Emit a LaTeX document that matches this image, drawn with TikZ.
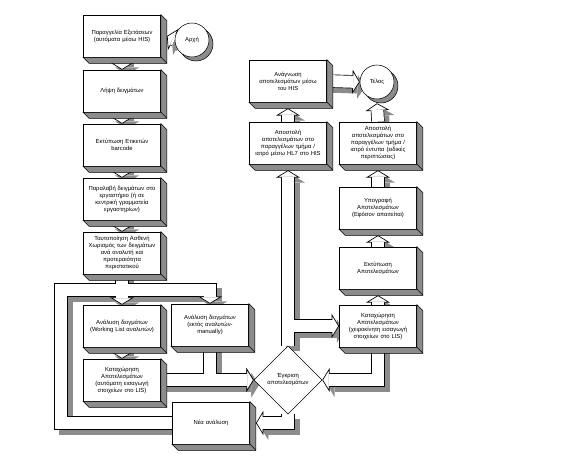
\documentclass[tikz,border=0pt]{standalone}
\usepackage{fontspec}
\setmainfont{Liberation Sans}
\usetikzlibrary{shapes.geometric, arrows.meta, shadows}

\pgfdeclarelayer{pipeshadow}
\pgfdeclarelayer{pipeedge}
\pgfdeclarelayer{pipefill}
\pgfsetlayers{pipeshadow,pipeedge,pipefill,main}

% wide 3D pipe: shadow, outline and white core on their own layers so that pipes merge
\newcommand{\pipe}[1]{%
  \begin{pgfonlayer}{pipeshadow}\draw[pipe shadow] #1;\end{pgfonlayer}%
  \begin{pgfonlayer}{pipeedge}\draw[pipe edge] #1;\end{pgfonlayer}%
  \begin{pgfonlayer}{pipefill}\draw[pipe fill] #1;\end{pgfonlayer}}

\tikzset{
  task/.style={draw, fill=white, rectangle, minimum width=57pt, minimum height=31.5pt, text width=57pt, inner sep=0.5pt, align=center},
  terminal/.style={draw, circle, fill=white, minimum size=25.5pt, inner sep=0pt,
    drop shadow={shadow xshift=3pt, shadow yshift=-3pt, fill=black!45, opacity=1, draw=black}},
  decision/.style={draw, diamond, fill=white, aspect=1, minimum width=51pt, minimum height=51pt, inner sep=0pt, align=center},
  pipe shadow/.style={draw=black!45, line width=10pt, transform canvas={shift={(3.8pt,-3.8pt)}}, -{Triangle[length=5.5pt,width=18pt,line width=0pt]}},
  pipe edge/.style={draw=black, line width=10pt, -{Triangle[length=5.5pt,width=18pt,fill=white,line width=0.5pt]}},
  pipe fill/.style={draw=white, line width=9pt, shorten >=4.9pt},
  extrude/.style={draw, fill=black!45}
}

\begin{document}
\begin{tikzpicture}[x=0.75pt, y=-0.75pt, font=\fontsize{4.4}{5.3}\selectfont]
    \useasboundingbox (0,0) rectangle (576,472);

    % left column
    \node[task] (order) at (122,36) {Παραγγελία Εξετάσεων\\(αυτόματα μέσω HIS)};
    \node[terminal] (start) at (192,40) {Αρχή};
    \node[task] (sample) at (122,91) {Λήψη δειγμάτων};
    \node[task] (label) at (122,145) {Εκτύπωση Ετικετών\\barcode};
    \node[task] (receive) at (122,199) {Παραλαβή δειγμάτων στο\\εργαστήριο (ή σε\\κεντρική γραμματεία\\εργαστηρίων)};
    \node[task] (sort) at (122,253) {Ταυτοποίηση Ασθενή\\Χωρισμός των δειγμάτων\\ανά αναλυτή και\\προτεραιότητα\\περιστατικού};

    % analysis block
    \node[task] (wl) at (122,326) {Ανάλυση δειγμάτων\\(Working List αναλυτών)};
    \node[task] (manual) at (210,325) {Ανάλυση δειγμάτων\\(εκτός αναλυτών-\\manually)};
    \node[task] (auto) at (122,380) {Καταχώρηση\\Αποτελεσμάτων\\(αυτόματη εισαγωγή\\στοιχείων στο LIS)};
    \node[task] (new) at (211,423) {Νέα ανάλυση};
    \node[decision] (approve) at (288,380) {Έγκριση\\αποτελεσμάτων};

    % right columns
    \node[task] (read) at (288,81) {Ανάγνωση\\αποτελεσμάτων μέσω\\του HIS};
    \node[terminal] (end) at (377,82) {Τέλος};
    \node[task] (hl7) at (288,143) {Αποστολή\\αποτελεσμάτων στο\\παραγγέλων τμήμα /\\ιατρό μέσω HL7 στο HIS};
    \node[task] (paper) at (378,143) {Αποστολή\\αποτελεσμάτων στο\\παραγγέλων τμήμα /\\ιατρό έντυπα (ειδικές\\περιπτώσεις)};
    \node[task] (sign) at (378,208) {Υπογραφή\\Αποτελεσμάτων\\(Εφόσον απαιτείται)};
    \node[task] (print) at (378,268) {Εκτύπωση\\Αποτελεσμάτων};
    \node[task] (mentry) at (378,326) {Καταχώρηση\\Αποτελεσμάτων\\(χειροκίνητη εισαγωγή\\στοιχείων στο LIS)};

    % 3D sides of the boxes
    \foreach \n in {order,sample,label,receive,sort,wl,manual,auto,new,read,hl7,paper,sign,print,mentry} {
        \draw[extrude] (\n.north east) -- ++(4.5pt,-4.5pt) |- ([shift={(4.5pt,-4.5pt)}]\n.south west) -- (\n.south west) -- (\n.south east) -- cycle;
        \draw (\n.south east) -- ++(4.5pt,-4.5pt);
    }

    % pipes
    \coordinate (loop) at (61,290);
    \pipe{(start.west) -- ([xshift=4.5pt]order.east)}
    \pipe{(order.south) -- (sample.north)}
    \pipe{(sample.south) -- (label.north)}
    \pipe{(label.south) -- (receive.north)}
    \pipe{(receive.south) -- (sort.north)}
    \pipe{(sort.south) -- (wl.north)}
    \pipe{(new.west) -| (loop) -| (manual.north)}
    \pipe{(wl.south) -- (auto.north)}
    \pipe{(auto.east) -- (approve.west)}
    \pipe{(manual.south) |- (approve.west)}
    \pipe{(approve.south) |- ([xshift=4.5pt]new.east)}
    \pipe{(approve.north) -- ([yshift=-4.5pt]hl7.south)}
    \pipe{(approve.north |- mentry.west) -- (mentry.west)}
    \pipe{(hl7.north) -- ([yshift=-4.5pt]read.south)}
    \pipe{(read.east) -- (end.west)}
    \pipe{(mentry.south) |- (approve.east)}
    \pipe{(mentry.north) -- ([yshift=-4.5pt]print.south)}
    \pipe{(print.north) -- ([yshift=-4.5pt]sign.south)}
    \pipe{(sign.north) -- ([yshift=-4.5pt]paper.south)}
    \pipe{(paper.north) -- ([yshift=-3pt]end.south)}
\end{tikzpicture}
\end{document}
